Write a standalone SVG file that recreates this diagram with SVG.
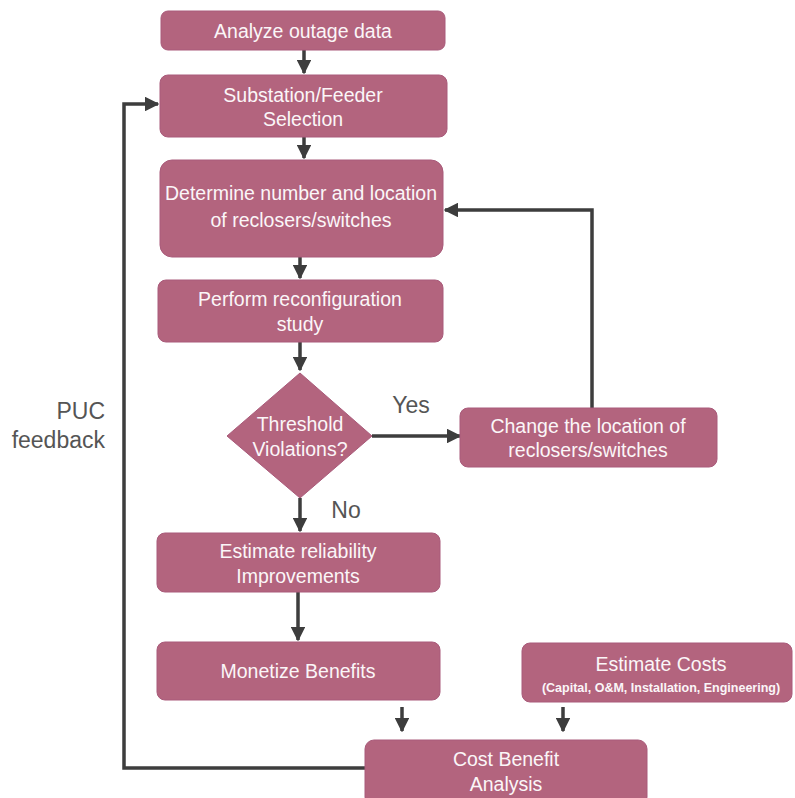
<svg xmlns="http://www.w3.org/2000/svg" width="795" height="798" viewBox="0 0 795 798">
  <defs>
    <marker id="arrow" viewBox="0 0 10 10" refX="9" refY="5" markerWidth="4.2" markerHeight="4.2" orient="auto" markerUnits="strokeWidth">
      <path d="M0,0 L10,5 L0,10 z" fill="#3d3d3d"/>
    </marker>
    <style>
      .box { fill: #b3647e; stroke: #a95a7a; stroke-width: 1; }
      .lbl { font-family: "Liberation Sans", Arial, sans-serif; font-size: 19.5px; fill: #fbf6f8; text-anchor: middle; }
      .small { font-family: "Liberation Sans", Arial, sans-serif; font-size: 12.5px; font-weight: bold; fill: #fbf6f8; text-anchor: middle; }
      .side { font-family: "Liberation Sans", Arial, sans-serif; font-size: 23px; fill: #555555; }
      .conn { fill: none; stroke: #3d3d3d; stroke-width: 3.5; }
    </style>
  </defs>
  <rect width="795" height="798" fill="#ffffff"/>

  <g id="connectors">
    <path class="conn" d="M304,50 V73" marker-end="url(#arrow)"/>
    <path class="conn" d="M304,137 V158" marker-end="url(#arrow)"/>
    <path class="conn" d="M300,257 V278" marker-end="url(#arrow)"/>
    <path class="conn" d="M300,342 V370" marker-end="url(#arrow)"/>
    <path class="conn" d="M372,436 H460" marker-end="url(#arrow)"/>
    <path class="conn" d="M592,408 V210 H445" marker-end="url(#arrow)"/>
    <path class="conn" d="M300,498 V531" marker-end="url(#arrow)"/>
    <path class="conn" d="M298,592 V640" marker-end="url(#arrow)"/>
    <path class="conn" d="M402,707 V731" marker-end="url(#arrow)"/>
    <path class="conn" d="M563,707 V731" marker-end="url(#arrow)"/>
    <path class="conn" d="M365,768 H124 V104 H158" marker-end="url(#arrow)"/>
    <text class="side" x="411" y="413" text-anchor="middle">Yes</text>
    <text class="side" x="346" y="518" text-anchor="middle">No</text>
    <text class="side" x="105" y="419" text-anchor="end">PUC</text>
    <text class="side" x="105" y="448" text-anchor="end">feedback</text>
  </g>

  <g id="analyze">
    <rect class="box" x="161" y="11" width="284" height="39" rx="7"/>
    <text class="lbl" x="303" y="38">Analyze outage data</text>
  </g>

  <g id="selection">
    <rect class="box" x="160" y="75" width="287" height="62" rx="8"/>
    <text class="lbl" x="303" y="102">Substation/Feeder</text>
    <text class="lbl" x="303" y="126">Selection</text>
  </g>

  <g id="determine">
    <rect class="box" x="160" y="160" width="283" height="97" rx="12"/>
    <text class="lbl" x="301" y="200">Determine number and location</text>
    <text class="lbl" x="301" y="227">of reclosers/switches</text>
  </g>

  <g id="reconfig">
    <rect class="box" x="158" y="280" width="285" height="62" rx="8"/>
    <text class="lbl" x="300" y="306">Perform reconfiguration</text>
    <text class="lbl" x="300" y="331">study</text>
  </g>

  <g id="threshold">
    <path class="box" d="M300,373 L372,436 L300,498 L227,436 Z"/>
    <text class="lbl" x="300" y="431">Threshold</text>
    <text class="lbl" x="300" y="456">Violations?</text>
  </g>

  <g id="change">
    <rect class="box" x="460" y="408" width="257" height="59" rx="8"/>
    <text class="lbl" x="588" y="433">Change the location of</text>
    <text class="lbl" x="588" y="457">reclosers/switches</text>
  </g>

  <g id="reliability">
    <rect class="box" x="157" y="533" width="283" height="59" rx="8"/>
    <text class="lbl" x="298" y="558">Estimate reliability</text>
    <text class="lbl" x="298" y="583">Improvements</text>
  </g>

  <g id="monetize">
    <rect class="box" x="157" y="642" width="283" height="58" rx="8"/>
    <text class="lbl" x="298" y="678">Monetize Benefits</text>
  </g>

  <g id="costs">
    <rect class="box" x="522" y="643" width="270" height="59" rx="8"/>
    <text class="lbl" x="661" y="671">Estimate Costs</text>
    <text class="small" x="661" y="692">(Capital, O&amp;M, Installation, Engineering)</text>
  </g>

  <g id="cba">
    <rect class="box" x="365" y="740" width="282" height="66" rx="9"/>
    <text class="lbl" x="506" y="766">Cost Benefit</text>
    <text class="lbl" x="506" y="791">Analysis</text>
  </g>
</svg>
